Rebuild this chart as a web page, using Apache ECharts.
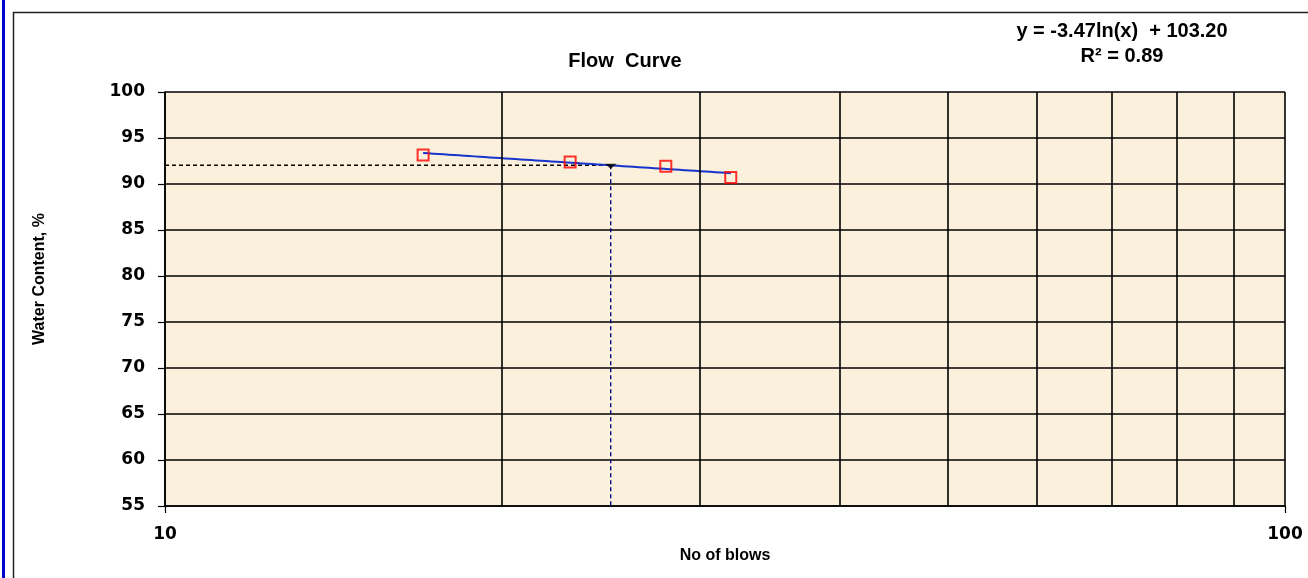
<!DOCTYPE html>
<html>
<head>
<meta charset="utf-8">
<script src="https://cdn.jsdelivr.net/npm/echarts@6/dist/echarts.min.js"></script>
<style>
  html, body { margin: 0; padding: 0; background: #ffffff; }
  #chart { width: 1308px; height: 578px; }
</style>
</head>
<body>
<div id="chart"></div>
<script>
// Liquid limit test: number of blows vs. water content
const blows = [17, 23, 28, 32];
const waterContent = [93.15, 92.39, 91.92, 90.71];

// Logarithmic fit  w = a*ln(N) + b
const fitCoeffs = [-3.47, 103.20];
const rSquared = 0.89;
const liquidLimitBlows = 25;

// Axis ranges and the extra vertical grid lines of the log axis
const xRange = [10, 100];
const yRange = [55, 100];
const yStep = 5;
const xGridValues = [20, 30, 40, 50, 60, 70, 80, 90];

const fit = n => fitCoeffs[0] * Math.log(n) + fitCoeffs[1];
const liquidLimit = fit(liquidLimitBlows);

// Trend line sampled along the fitted curve between the first and last test
const nMin = Math.min(...blows), nMax = Math.max(...blows);
const trend = [];
for (let i = 0; i <= 60; i++) {
  const n = nMin * Math.pow(nMax / nMin, i / 60);
  trend.push([n, fit(n)]);
}

const fmt = v => v.toFixed(2);
const eqText = 'y = ' + fmt(fitCoeffs[0]) + 'ln(x)  + ' + fmt(fitCoeffs[1]);
const r2Text = 'R² = ' + fmt(rSquared);

const chart = echarts.init(document.getElementById('chart'), null, { renderer: 'canvas' });

const textFont = '"Liberation Sans", Arial, sans-serif';
const numFont = '"DejaVu Sans", Verdana, sans-serif';
const black = '#000000';

chart.setOption({
  animation: false,
  backgroundColor: '#ffffff',
  grid: {
    left: 165, top: 92, right: 23, bottom: 72,
    show: true, backgroundColor: '#FBF0DC', borderWidth: 0
  },
  xAxis: {
    type: 'log', logBase: 10, min: xRange[0], max: xRange[1],
    name: 'No of blows', nameLocation: 'middle', nameGap: 38,
    nameTextStyle: { fontFamily: textFont, fontWeight: 'bold', fontSize: 16, color: black },
    axisLine: { show: true, lineStyle: { color: black, width: 1.6 } },
    axisTick: { show: true, inside: false, length: 7, lineStyle: { color: black, width: 1.2 } },
    axisLabel: { fontFamily: numFont, fontWeight: 'bold', fontSize: 17, color: black, margin: 20 },
    splitLine: { show: true, lineStyle: { color: black, width: 1.6 } },
    minorTick: { show: false }
  },
  yAxis: {
    type: 'value', min: yRange[0], max: yRange[1], interval: yStep,
    axisLine: { show: true, lineStyle: { color: black, width: 1.6 } },
    axisTick: { show: true, inside: false, length: 7, lineStyle: { color: black, width: 1.2 } },
    axisLabel: { fontFamily: numFont, fontWeight: 'bold', fontSize: 17, color: black, margin: 20 },
    splitLine: { show: true, lineStyle: { color: black, width: 1.6 } }
  },
  graphic: [
    // page frame
    { type: 'rect', silent: true, z: -1,
      shape: { x: 13.5, y: 12.5, width: 1310, height: 600 },
      style: { fill: 'none', stroke: '#222222', lineWidth: 1.5 } },
    { type: 'rect', silent: true,
      shape: { x: 2, y: 0, width: 3, height: 578 },
      style: { fill: '#0000CC' } },
    // chart title
    { type: 'text', x: 625, y: 61, silent: true,
      style: { text: 'Flow  Curve', font: 'bold 20px ' + textFont, fill: black,
               align: 'center', verticalAlign: 'middle' } },
    // fit equation
    { type: 'text', x: 1122, y: 31, silent: true,
      style: { text: eqText, font: 'bold 20px ' + textFont, fill: black,
               align: 'center', verticalAlign: 'middle' } },
    { type: 'text', x: 1122, y: 56, silent: true,
      style: { text: r2Text, font: 'bold 20px ' + textFont, fill: black,
               align: 'center', verticalAlign: 'middle' } },
    // y axis title
    { type: 'text', x: 40, y: 279, rotation: Math.PI / 2, silent: true,
      style: { text: 'Water Content, %', font: 'bold 16px ' + textFont, fill: black,
               align: 'center', verticalAlign: 'middle' } }
  ],
  series: [
    {
      name: 'grid', type: 'line', data: [], silent: true, z: 1,
      markLine: {
        silent: true, symbol: ['none', 'none'], label: { show: false },
        lineStyle: { color: black, width: 1.6, type: 'solid' },
        data: xGridValues.map(v => ({ xAxis: v }))
      }
    },
    {
      name: 'LL horizontal', type: 'line', silent: true, z: 3,
      data: [[xRange[0], liquidLimit], [liquidLimitBlows, liquidLimit]],
      showSymbol: false,
      lineStyle: { color: black, width: 1.4, type: [4, 3] }
    },
    {
      name: 'LL vertical', type: 'line', silent: true, z: 3,
      data: [[liquidLimitBlows, liquidLimit], [liquidLimitBlows, yRange[0]]],
      showSymbol: false,
      lineStyle: { color: '#000080', width: 1.4, type: [4, 3] }
    },
    {
      name: 'trend', type: 'line', silent: true, z: 4,
      data: trend, showSymbol: false,
      lineStyle: { color: '#1633CC', width: 2 }
    },
    {
      name: 'LL point', type: 'scatter', silent: true, z: 5,
      data: [[liquidLimitBlows, liquidLimit]],
      symbol: 'triangle', symbolRotate: 180, symbolSize: [12, 5],
      symbolOffset: [0, 1],
      itemStyle: { color: black }
    },
    {
      name: 'tests', type: 'scatter', z: 6,
      data: blows.map((n, i) => [n, waterContent[i]]),
      symbol: 'rect', symbolSize: 11,
      itemStyle: { color: 'rgba(0,0,0,0)', borderColor: '#FF0000', borderWidth: 2 }
    }
  ]
});
</script>
</body>
</html>
